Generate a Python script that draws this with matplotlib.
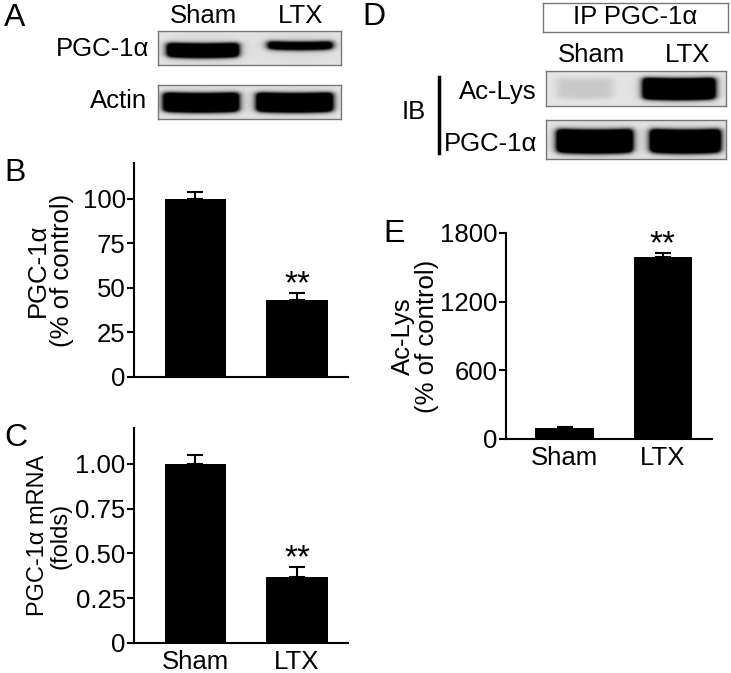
import numpy as np
import matplotlib
matplotlib.use("Agg")
import matplotlib.pyplot as plt

plt.rcParams['font.family'] = ['Liberation Sans', 'DejaVu Sans']

# Datos
grupos = ['Sham', 'LTX']

# B: proteína PGC-1α (% del control)
pgc_proteina = [100, 43]
pgc_proteina_err = [3.5, 4]

# C: ARNm de PGC-1α (veces)
pgc_mrna = [1.00, 0.37]
pgc_mrna_err = [0.05, 0.055]

# E: Ac-Lys (% del control)
aclys = [100, 1590]
aclys_err = [8, 35]

# Intensidad relativa de las bandas en los blots
banda_pgc_a = [1.0, 0.9]
banda_actina = [1.0, 1.0]
banda_aclys = [0.07, 1.0]
banda_pgc_d = [1.0, 1.0]

W, H = 731, 673
fig = plt.figure(figsize=(W / 100, H / 100), dpi=100)
FS = 18.5


def caja(x0, y0, x1, y1):
    # ejes en coordenadas de píxel (origen arriba a la izquierda)
    return fig.add_axes([x0 / W, 1 - y1 / H, (x1 - x0) / W, (y1 - y0) / H])


def texto(x, y, s, **kw):
    kw.setdefault('fontsize', FS)
    fig.text(x / W, 1 - y / H, s, **kw)


def dibujar_blot(ax, intensidades, carriles, fondo=0.1):
    xx, yy = np.meshgrid(np.linspace(0, 1, 400), np.linspace(0, 1, 100))
    img = np.full_like(xx, fondo)
    for inten, (x0, x1, y0, y1) in zip(intensidades, carriles):
        xc = (x0 + x1) / 2
        curva = -0.10 * ((xx - xc) / (x1 - x0)) ** 2
        fx = 1 / (1 + np.exp(-(xx - x0) / 0.012)) / (1 + np.exp((xx - x1) / 0.012))
        fy = 1 / (1 + np.exp(-(yy - y0 - curva) / 0.035)) / (1 + np.exp((yy - y1 - curva) / 0.035))
        halo = np.exp(-((xx - xc) / (x1 - x0)) ** 2 * 3) * np.exp(-((yy - (y0 + y1) / 2) / 0.6) ** 2)
        img = img + 0.06 * inten * halo + 1.6 * inten * fx * fy
    ax.imshow(np.clip(img, 0, 1), cmap='gray_r', vmin=0, vmax=1, aspect='auto',
              extent=(0, 1, 1, 0), interpolation='bilinear')
    ax.set_xticks([])
    ax.set_yticks([])
    for s in ax.spines.values():
        s.set_color('#777777')
        s.set_linewidth(1)


def barras(ax, valores, errores, ylim, yticks, yticklabels, ylabel, labelpad, mostrar_x, fs_label=FS):
    x = np.arange(len(valores))
    ax.bar(x, valores, width=0.6, color='black')
    ax.errorbar(x, valores, yerr=[np.zeros(len(errores)), errores], fmt='none',
                ecolor='black', elinewidth=1.5, capsize=6, capthick=1.5)
    ax.annotate('**', xy=(x[1], valores[1] + errores[1]), xytext=(0, -5),
                textcoords='offset points', ha='center', va='bottom', fontsize=24)
    ax.set_xlim(-0.6, 1.5)
    ax.set_ylim(*ylim)
    ax.set_yticks(yticks)
    ax.set_yticklabels(yticklabels, fontsize=FS)
    ax.set_ylabel(ylabel, fontsize=fs_label, linespacing=1.0, labelpad=labelpad)
    for lado in ['top', 'right']:
        ax.spines[lado].set_visible(False)
    for lado in ['left', 'bottom']:
        ax.spines[lado].set_linewidth(1.5)
    ax.tick_params(axis='y', direction='out', length=5, width=1.5, pad=1)
    ax.tick_params(axis='x', length=0, pad=5)
    if mostrar_x:
        ax.set_xticks(x)
        ax.set_xticklabels(grupos, fontsize=FS)
    else:
        ax.set_xticks([])


# ---- Panel A: western blot ----
texto(4, 18, 'A', fontsize=23, va='center')
texto(203, 16, 'Sham', ha='center', va='center')
texto(301, 16, 'LTX', ha='center', va='center')
texto(149, 49, 'PGC-1α', ha='right', va='center')
texto(147, 101, 'Actin', ha='right', va='center')
ax_a1 = caja(158, 31, 341, 65)
dibujar_blot(ax_a1, banda_pgc_a, [(0.05, 0.44, 0.38, 0.78), (0.6, 0.955, 0.33, 0.55)])
ax_a2 = caja(158, 85, 341, 119)
dibujar_blot(ax_a2, banda_actina, [(0.03, 0.44, 0.25, 0.8), (0.54, 0.955, 0.25, 0.8)])

# ---- Panel B ----
texto(4, 173, 'B', fontsize=23, va='center')
ax_b = caja(134, 163, 348, 377)
barras(ax_b, pgc_proteina, pgc_proteina_err, (0, 120), [0, 25, 50, 75, 100],
       ['0', '25', '50', '75', '100'], 'PGC-1α\n(% of control)', 6, False)

# ---- Panel C ----
texto(4, 438, 'C', fontsize=23, va='center')
ax_c = caja(134, 428, 348, 643)
barras(ax_c, pgc_mrna, pgc_mrna_err, (0, 1.2), [0, 0.25, 0.5, 0.75, 1.0],
       ['0', '0.25', '0.50', '0.75', '1.00'], 'PGC-1α mRNA\n(folds)', 3, True, fs_label=17)

# ---- Panel D: IP / IB ----
texto(362, 17, 'D', fontsize=23, va='center')
ax_ip = caja(543, 3, 728, 32)
ax_ip.set_xticks([])
ax_ip.set_yticks([])
for s in ax_ip.spines.values():
    s.set_color('#777777')
    s.set_linewidth(1)
ax_ip.text(0.5, 0.5, 'IP PGC-1α', ha='center', va='center', fontsize=FS, transform=ax_ip.transAxes)
texto(591, 55, 'Sham', ha='center', va='center')
texto(688, 55, 'LTX', ha='center', va='center')
texto(537, 92, 'Ac-Lys', ha='right', va='center')
texto(537, 144, 'PGC-1α', ha='right', va='center')
texto(414, 112, 'IB', ha='center', va='center')
fig.add_artist(plt.Line2D([439 / W, 439 / W], [1 - 77 / H, 1 - 153 / H], color='black', linewidth=2.5))
ax_d1 = caja(546, 71, 726, 106)
dibujar_blot(ax_d1, banda_aclys, [(0.06, 0.37, 0.22, 0.8), (0.54, 0.94, 0.22, 0.82)])
ax_d2 = caja(546, 120, 726, 159)
dibujar_blot(ax_d2, banda_pgc_d, [(0.06, 0.48, 0.26, 0.85), (0.58, 0.97, 0.26, 0.85)])

# ---- Panel E ----
texto(383, 234, 'E', fontsize=23, va='center')
ax_e = caja(506, 233, 712, 439)
barras(ax_e, aclys, aclys_err, (0, 1800), [0, 600, 1200, 1800],
       ['0', '600', '1200', '1800'], 'Ac-Lys\n(% of control)', 1, True)

fig.savefig('out.png', dpi=100)
